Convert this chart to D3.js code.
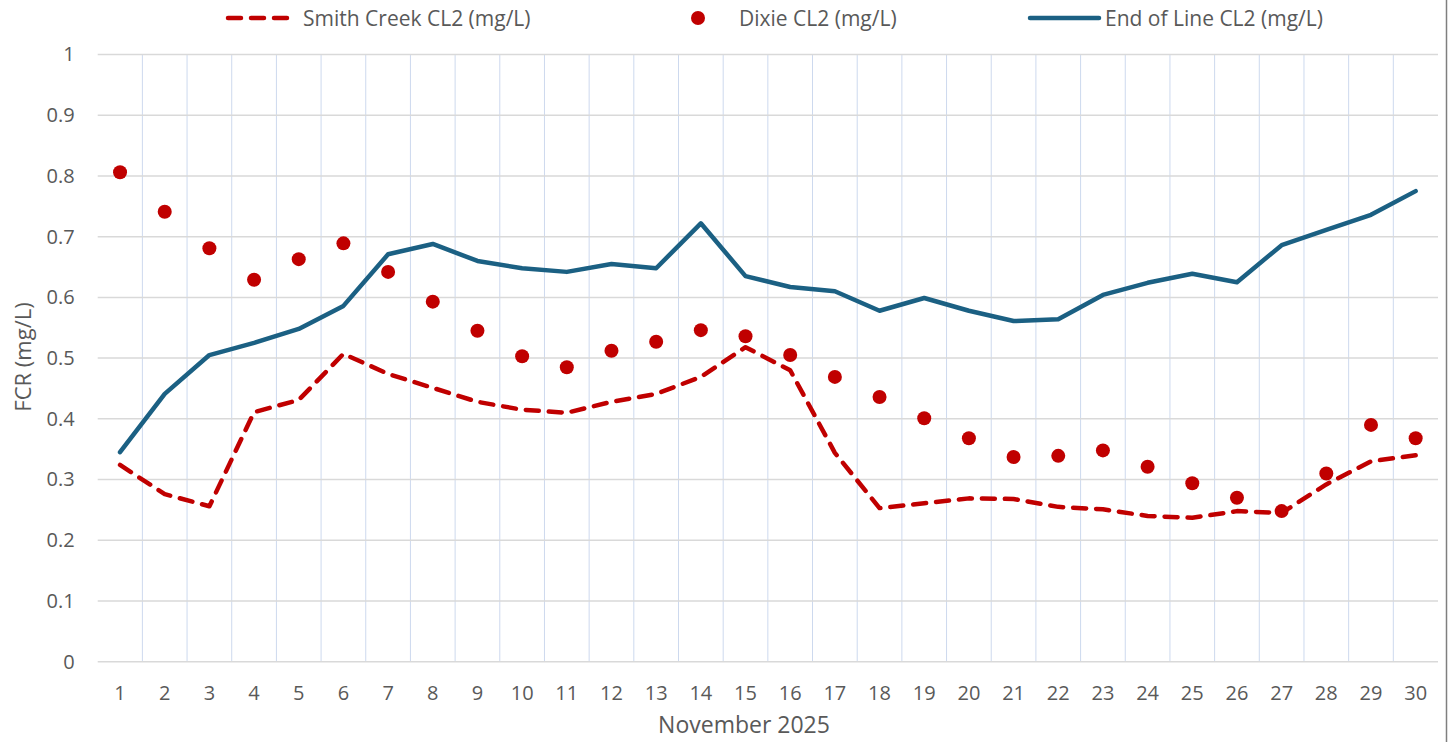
<!DOCTYPE html>
<html>
<head>
<meta charset="utf-8">
<script src="https://cdn.jsdelivr.net/npm/d3@7"></script>
<style>
  body { margin: 0; background: #fff; }
  svg text { font-family: "Open Sans", "Noto Sans", sans-serif; fill: #595959; }
</style>
</head>
<body>
<div id="chart"></div>
<script>
const days = d3.range(1, 31);

const smithCreek = [0.324, 0.276, 0.256, 0.411, 0.431, 0.507, 0.474, 0.451, 0.428, 0.415,
    0.410, 0.428, 0.441, 0.469, 0.518, 0.480, 0.344, 0.253, 0.261, 0.269,
    0.268, 0.255, 0.251, 0.240, 0.237, 0.248, 0.245, 0.292, 0.330, 0.340];

const dixie = [0.806, 0.741, 0.681, 0.629, 0.663, 0.689, 0.642, 0.593, 0.545, 0.503,
    0.485, 0.512, 0.527, 0.546, 0.536, 0.505, 0.469, 0.436, 0.401, 0.368,
    0.337, 0.339, 0.348, 0.321, 0.294, 0.270, 0.248, 0.310, 0.390, 0.368];

const endOfLine = [0.345, 0.441, 0.505, 0.525, 0.548, 0.586, 0.671, 0.688, 0.660, 0.648,
    0.642, 0.655, 0.648, 0.722, 0.635, 0.617, 0.610, 0.578, 0.599, 0.578,
    0.561, 0.564, 0.604, 0.624, 0.639, 0.625, 0.686, 0.711, 0.736, 0.775];

const yTicks = [0, 0.1, 0.2, 0.3, 0.4, 0.5, 0.6, 0.7, 0.8, 0.9, 1];

const red = "#c00000";
const blue = "#1b6083";

const W = 1450, H = 742;
const margin = { top: 54.5, right: 12, bottom: 80.3, left: 97.7 };
const width = W - margin.left - margin.right;
const height = H - margin.top - margin.bottom;

const svg = d3.select("#chart")
    .append("svg")
    .attr("width", W)
    .attr("height", H);

const g = svg.append("g")
    .attr("transform", `translate(${margin.left},${margin.top})`);

const x = d3.scaleBand()
    .domain(days)
    .range([0, width]);

const y = d3.scaleLinear()
    .domain([0, 1])
    .range([height, 0]);

const cx = d => x(d) + x.bandwidth() / 2;

// vertical gridlines between categories
g.selectAll(".vgrid")
    .data(days.slice(1))
    .join("line")
    .attr("class", "vgrid")
    .attr("x1", d => x(d)).attr("x2", d => x(d))
    .attr("y1", 0).attr("y2", height)
    .style("stroke", "#cdd9ee")
    .style("stroke-width", 1);

// horizontal gridlines
g.selectAll(".hgrid")
    .data(yTicks)
    .join("line")
    .attr("class", "hgrid")
    .attr("x1", 0).attr("x2", width)
    .attr("y1", d => y(d)).attr("y2", d => y(d))
    .style("stroke", "#d9d9d9")
    .style("stroke-width", 1.5);

// y axis labels
const yAxis = g.append("g")
    .call(d3.axisLeft(y).tickValues(yTicks).tickFormat(d3.format("~g")).tickSize(0).tickPadding(23));
yAxis.select(".domain").remove();
yAxis.selectAll("text").style("font-size", "20px").style("fill", "#595959").style("font-family", null);

// x axis labels
const xAxis = g.append("g")
    .attr("transform", `translate(0,${height})`)
    .call(d3.axisBottom(x).tickSize(0).tickPadding(24));
xAxis.select(".domain").remove();
xAxis.selectAll("text").style("font-size", "20px").style("fill", "#595959").style("font-family", null);

// axis titles
svg.append("text")
    .attr("transform", `translate(31,357) rotate(-90)`)
    .attr("text-anchor", "middle")
    .style("font-size", "22px")
    .text("FCR (mg/L)");

svg.append("text")
    .attr("x", 744)
    .attr("y", 733)
    .attr("text-anchor", "middle")
    .style("font-size", "23px")
    .text("November 2025");

// series
const line = d3.line()
    .x((d, i) => cx(days[i]))
    .y(d => y(d));

g.append("path")
    .datum(smithCreek)
    .attr("d", line)
    .style("fill", "none")
    .style("stroke", red)
    .style("stroke-width", 4.5)
    .style("stroke-dasharray", "13,10")
    .style("stroke-linecap", "round")
    .style("stroke-linejoin", "round");

g.append("path")
    .datum(endOfLine)
    .attr("d", line)
    .style("fill", "none")
    .style("stroke", blue)
    .style("stroke-width", 4.5)
    .style("stroke-linecap", "round")
    .style("stroke-linejoin", "round");

g.selectAll(".dot")
    .data(dixie)
    .join("circle")
    .attr("class", "dot")
    .attr("cx", (d, i) => cx(days[i]))
    .attr("cy", d => y(d))
    .attr("r", 7)
    .style("fill", red);

// legend
const legend = svg.append("g").attr("transform", "translate(0,18)");

legend.append("line")
    .attr("x1", 228).attr("x2", 290).attr("y1", 0).attr("y2", 0)
    .style("stroke", red).style("stroke-width", 4.5)
    .style("stroke-dasharray", "13,10").style("stroke-linecap", "round");
legend.append("text")
    .attr("x", 303).attr("y", 7.5)
    .style("font-size", "21px")
    .text("Smith Creek CL2 (mg/L)");

legend.append("circle")
    .attr("cx", 698).attr("cy", 0).attr("r", 7)
    .style("fill", red);
legend.append("text")
    .attr("x", 739).attr("y", 7.5)
    .style("font-size", "21px")
    .text("Dixie CL2 (mg/L)");

legend.append("line")
    .attr("x1", 1030).attr("x2", 1099).attr("y1", 0).attr("y2", 0)
    .style("stroke", blue).style("stroke-width", 4.5)
    .style("stroke-linecap", "round");
legend.append("text")
    .attr("x", 1105).attr("y", 7.5)
    .style("font-size", "21px")
    .text("End of Line CL2 (mg/L)");

// right border of the chart area
svg.append("line")
    .attr("x1", 1446.5).attr("x2", 1446.5).attr("y1", 0).attr("y2", H)
    .style("stroke", "#7f7f7f")
    .style("stroke-width", 1.5);
</script>
</body>
</html>
